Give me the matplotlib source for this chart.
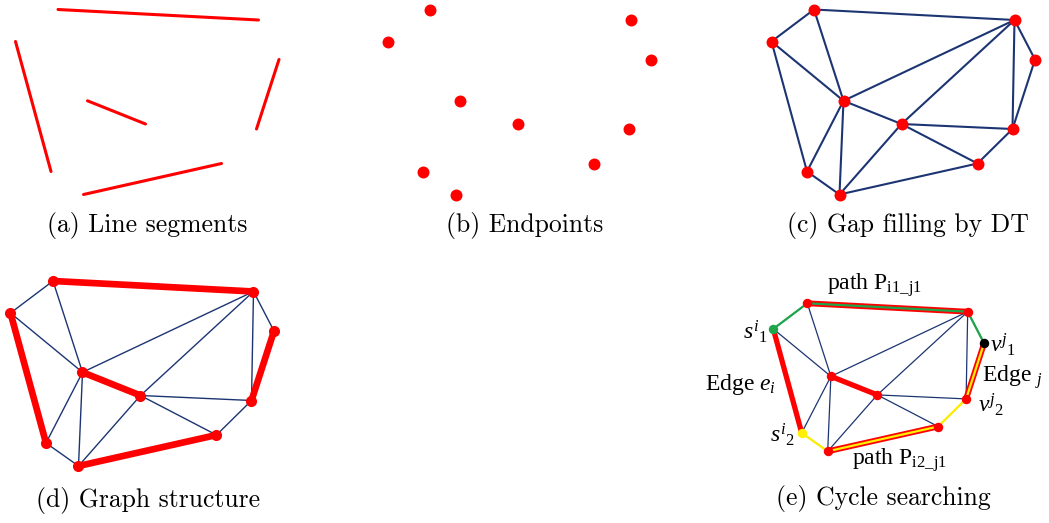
import matplotlib

matplotlib.use("Agg")
import matplotlib.pyplot as plt

W, H = 1049, 523

plt.rcParams["mathtext.fontset"] = "custom"
plt.rcParams["mathtext.rm"] = "Liberation Serif"
plt.rcParams["mathtext.it"] = "Liberation Serif:italic"

RED = "#ff0000"
NAVY = "#1c3572"
GREEN = "#1ea64b"
YELLOW = "#ffef00"

# node positions (x right, y down)
NODE_NAMES = ["TL", "L", "TR", "R", "CL", "C", "RL", "BR", "BL", "B"]
NODE_X = [42.5, 0.0, 243.0, 263.5, 72.0, 130.0, 241.0, 206.0, 35.5, 68.0]
NODE_Y = [0.0, 32.0, 10.5, 50.0, 91.3, 114.5, 119.5, 154.0, 162.0, 185.0]

# detected line segments
SEGMENTS = [("TL", "TR"), ("L", "BL"), ("CL", "C"), ("R", "RL"), ("B", "BR")]

# Delaunay edges that fill the gaps
DT_EDGES = [
    ("TL", "L"), ("TL", "TR"), ("TL", "CL"), ("L", "CL"), ("L", "BL"),
    ("TR", "CL"), ("TR", "C"), ("TR", "R"), ("TR", "RL"), ("R", "RL"),
    ("CL", "C"), ("CL", "BL"), ("CL", "B"), ("C", "B"), ("C", "RL"),
    ("C", "BR"), ("RL", "BR"), ("BR", "B"), ("BL", "B"),
]

# cycle search: two paths from edge e_i to edge j
PATH_I1_J1 = ["L", "TL", "TR", "R"]
PATH_I2_J1 = ["BL", "B", "BR", "RL", "R"]

CAPTIONS = [
    "(a) Line segments", "(b) Endpoints", "(c) Gap filling by DT",
    "(d) Graph structure", "(e) Cycle searching",
]
CAPTION_POS = [(147, 226), (525, 226), (908, 226), (148, 500), (883, 499)]

POS = {n: (x, y) for n, x, y in zip(NODE_NAMES, NODE_X, NODE_Y)}


def add_panel(fig, ox, oy, scale):
    # axes where one data unit is `scale` pixels, data origin at pixel (ox, oy)
    x0, x1, y0, y1 = -20, 285, -20, 205
    left = ox + x0 * scale
    top = oy + y0 * scale
    width = (x1 - x0) * scale
    height = (y1 - y0) * scale
    ax = fig.add_axes([left / W, 1 - (top + height) / H, width / W, height / H])
    ax.set_xlim(x0, x1)
    ax.set_ylim(y1, y0)
    ax.axis("off")
    return ax


def draw_edges(ax, edges, **kw):
    for a, b in edges:
        ax.plot([POS[a][0], POS[b][0]], [POS[a][1], POS[b][1]],
                solid_capstyle="round", **kw)


def draw_path(ax, names, **kw):
    ax.plot([POS[n][0] for n in names], [POS[n][1] for n in names],
            solid_capstyle="round", solid_joinstyle="round", **kw)


def draw_nodes(ax, size, names=NODE_NAMES, color=RED):
    ax.plot([POS[n][0] for n in names], [POS[n][1] for n in names],
            "o", color=color, markersize=size, markeredgewidth=0, zorder=5)


fig = plt.figure(figsize=(W / 100, H / 100), dpi=100)

# (a) line segments
ax = add_panel(fig, 15.5, 9.5, 1.0)
draw_edges(ax, SEGMENTS, color=RED, lw=2.2)

# (b) endpoints
ax = add_panel(fig, 387.5, 9.5, 1.0)
draw_nodes(ax, 8.6)

# (c) Delaunay triangulation
ax = add_panel(fig, 771.5, 9.5, 1.0)
draw_edges(ax, DT_EDGES, color=NAVY, lw=1.5)
draw_nodes(ax, 8.6)

# (d) graph structure
ax = add_panel(fig, 10.5, 281.0, 1.0)
thin = [e for e in DT_EDGES if e not in SEGMENTS]
draw_edges(ax, thin, color=NAVY, lw=1.0)
draw_edges(ax, SEGMENTS, color=RED, lw=4.8)
draw_nodes(ax, 8.0)

# (e) cycle searching
ax = add_panel(fig, 773.3, 303.3, 0.8)
draw_edges(ax, thin, color=NAVY, lw=0.9)
draw_edges(ax, [("L", "BL"), ("CL", "C")], color=RED, lw=3.8)
draw_edges(ax, [("TL", "TR"), ("R", "RL"), ("B", "BR")], color=RED, lw=4.2)
draw_path(ax, PATH_I1_J1, color=GREEN, lw=1.6, zorder=3)
draw_path(ax, PATH_I2_J1, color=YELLOW, lw=1.6, zorder=3)
others = [n for n in NODE_NAMES if n not in ("L", "BL", "R")]
draw_nodes(ax, 6.8, others)
draw_nodes(ax, 6.8, ["L"], GREEN)
draw_nodes(ax, 6.8, ["BL"], YELLOW)
draw_nodes(ax, 6.8, ["R"], "black")

lab = dict(fontsize=17, family="Liberation Serif", va="center")
ax.text(127, -22.5, r"path P$_{\mathrm{i1\_j1}}$", ha="center", **lab)
ax.text(158, 196, r"path P$_{\mathrm{i2\_j1}}$", ha="center", **lab)
ax.text(-41, 102, r"Edge $e_i$", ha="center", **lab)
ax.text(261.5, 92, r"Edge $_j$", ha="left", **lab)
ax.text(-7, 35.5, r"$s^i{}_\mathit{1}$", ha="right", **lab)
ax.text(27, 164.5, r"$s^i{}_\mathit{2}$", ha="right", **lab)
ax.text(271, 52, r"$v^j{}_\mathit{1}$", ha="left", **lab)
ax.text(256, 127, r"$v^j{}_\mathit{2}$", ha="left", **lab)

for text, (x, y) in zip(CAPTIONS, CAPTION_POS):
    fig.text(x / W, 1 - y / H, text, ha="center", va="center",
             fontsize=18.5, family="cmr10")

fig.savefig("out.png", dpi=100)
